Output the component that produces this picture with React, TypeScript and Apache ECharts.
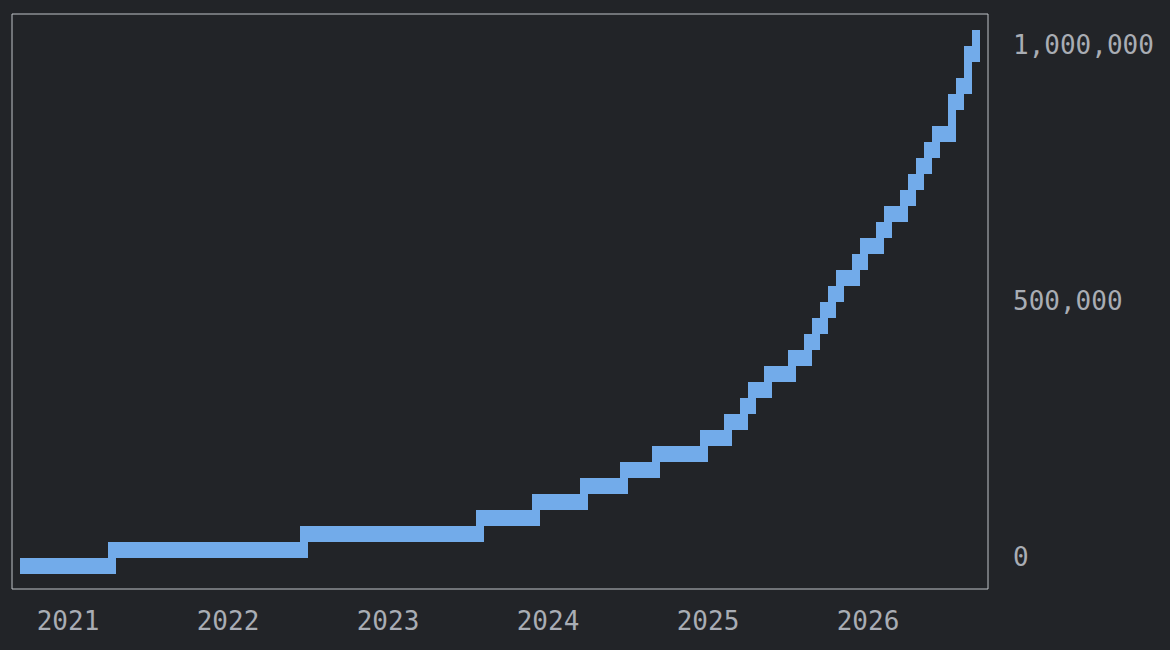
import { useEffect, useRef } from "react";
import * as echarts from "echarts";

// Step points of the cumulative series (date, value)
const dates = [
  "2020-09-21", "2021-04-11", "2022-06-23", "2023-07-29", "2023-12-04",
  "2024-03-23", "2024-06-22", "2024-09-03", "2024-12-21", "2025-02-15",
  "2025-03-24", "2025-04-11", "2025-05-17", "2025-07-11", "2025-08-17",
  "2025-09-04", "2025-09-22", "2025-10-10", "2025-10-29", "2025-12-04",
  "2025-12-22", "2026-01-28", "2026-02-15", "2026-03-24", "2026-04-11",
  "2026-04-29", "2026-05-17", "2026-06-04", "2026-07-05", "2026-07-13",
  "2026-07-29", "2026-08-08", "2026-08-18", "2026-09-04",
];
const values = [
  0, 30000, 60000, 90000, 125000,
  155000, 185000, 215000, 250000, 280000,
  310000, 340000, 375000, 405000, 435000,
  465000, 500000, 530000, 560000, 590000,
  625000, 655000, 685000, 715000, 750000,
  780000, 810000, 840000, 875000, 905000,
  935000, 965000, 1000000, 1030000,
];
const yearTicks = [2021, 2022, 2023, 2024, 2025, 2026];
const valueTicks = [0, 500000, 1000000];

const BG = "#222428";
const BLUE = "#72abea";
const TEXT = "#a9adb4";
const FRAME = "#bfc3c8";
const FONT = "DejaVu Sans Mono";

// blocky terminal-like cells
const CELL_W = 8;
const CELL_H = 16;
const CELL_X0 = 4;
const CELL_Y0 = 14;

function toYear(d: string) {
  const [y, m, day] = d.split("-").map(Number);
  const start = Date.UTC(y, 0, 1);
  const end = Date.UTC(y + 1, 0, 1);
  return y + (Date.UTC(y, m - 1, day) - start) / (end - start);
}

export default function App() {
  const chartRef = useRef<HTMLDivElement>(null);

  useEffect(() => {
    document.body.style.margin = "0";
    document.body.style.background = BG;
    if (!chartRef.current) return;
    const chart = echarts.init(chartRef.current, null, { renderer: "svg" });

    const pts = dates.map((d, i) => [toYear(d), values[i]]);
    const col = (px: number) => Math.floor((px - CELL_X0) / CELL_W);
    const row = (py: number) => Math.round((py - CELL_Y0) / CELL_H);

    const option = {
      animation: false,
      backgroundColor: BG,
      grid: {
        left: 12,
        top: 14,
        width: 976,
        height: 575,
        show: true,
        borderColor: FRAME,
        borderWidth: 1,
        backgroundColor: "transparent",
        outerBoundsMode: "none",
      },
      xAxis: {
        type: "value",
        min: 2020.65,
        max: 2026.75,
        axisLine: { show: false },
        axisTick: { show: false },
        splitLine: { show: false },
        axisLabel: {
          customValues: yearTicks,
          formatter: (v: number) => String(v),
          color: TEXT,
          fontFamily: FONT,
          fontSize: 26,
          margin: 19,
        },
      },
      yAxis: {
        type: "value",
        position: "right",
        min: -62500,
        max: 1060547,
        axisLine: { show: false },
        axisTick: { show: false },
        splitLine: { show: false },
        axisLabel: {
          customValues: valueTicks,
          formatter: (v: number) => v.toLocaleString("en-US"),
          color: TEXT,
          fontFamily: FONT,
          fontSize: 26,
          margin: 25,
          align: "left",
        },
      },
      series: [
        {
          type: "custom",
          data: pts,
          clip: false,
          renderItem: (params: any, api: any) => {
            const i = params.dataIndex;
            const [x0, y0] = api.coord([api.value(0), api.value(1)]);
            const [x1, y1] = api.coord(pts[i + 1] ?? pts[i]);
            const c0 = col(x0);
            const c1 = col(x1);
            const r0 = row(y0);
            const r1 = row(y1);
            const style = { fill: BLUE };
            return {
              type: "group",
              children: [
                {
                  type: "rect",
                  shape: {
                    x: CELL_X0 + c0 * CELL_W,
                    y: CELL_Y0 + r0 * CELL_H,
                    width: (c1 - c0 + 1) * CELL_W,
                    height: CELL_H,
                  },
                  style,
                },
                {
                  type: "rect",
                  shape: {
                    x: CELL_X0 + c1 * CELL_W,
                    y: CELL_Y0 + Math.min(r0, r1) * CELL_H,
                    width: CELL_W,
                    height: (Math.abs(r1 - r0) + 1) * CELL_H,
                  },
                  style,
                },
              ],
            };
          },
        },
      ],
    };

    chart.setOption(option);
    return () => {
      chart.dispose();
    };
  }, []);

  return <div ref={chartRef} style={{ width: 1170, height: 650 }} />;
}
